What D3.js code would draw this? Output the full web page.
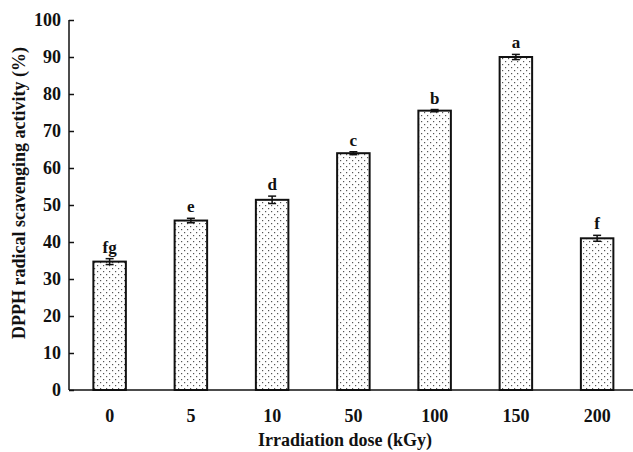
<!DOCTYPE html>
<html><head><meta charset="utf-8">
<script src="https://cdn.jsdelivr.net/npm/d3@7"></script>
<style>body{margin:0;background:#fff}svg{display:block}</style>
</head><body>
<script>
const categories = ["0","5","10","50","100","150","200"];
const values = [34.7, 45.8, 51.4, 64.0, 75.5, 90.0, 41.0];
const errors = [0.8, 0.6, 1.0, 0.4, 0.3, 0.7, 0.8];
const letters = ["fg","e","d","c","b","a","f"];
const yTicks = [0,10,20,30,40,50,60,70,80,90,100];

(function(){
const W = 633, H = 452;
const svg = d3.select("body").append("svg").attr("width", W).attr("height", H);
const mLeft = 69, mTop = 20, mBottom = 390;
const x = d3.scaleBand().domain(categories).range([mLeft, mLeft + 7*81.25]).paddingInner(0.6).paddingOuter(0.3);
const y = d3.scaleLinear().domain([0,100]).range([mBottom, mTop]);

const defs = svg.append("defs");
const pat = defs.append("pattern").attr("id","dots").attr("patternUnits","userSpaceOnUse")
  .attr("width",6).attr("height",6);
pat.append("rect").attr("width",6).attr("height",6).attr("fill","#fff");
pat.append("rect").attr("x",1).attr("y",1).attr("width",1.2).attr("height",1.2).attr("fill","#555");
pat.append("rect").attr("x",4).attr("y",4).attr("width",1.2).attr("height",1.2).attr("fill","#555");

const font = "'Liberation Serif','Times New Roman',serif";

svg.selectAll("rect.bar").data(values).join("rect").attr("class","bar")
  .attr("x",(d,i)=>x(categories[i])).attr("width",x.bandwidth())
  .attr("y",d=>y(d)).attr("height",d=>mBottom-y(d))
  .attr("fill","url(#dots)").attr("stroke","#111").attr("stroke-width",2);

const eb = svg.append("g").attr("stroke","#111").attr("stroke-width",1.5);
values.forEach((v,i)=>{
  const cx = x(categories[i]) + x.bandwidth()/2;
  eb.append("line").attr("x1",cx).attr("x2",cx).attr("y1",y(v+errors[i])).attr("y2",y(v-errors[i]));
  eb.append("line").attr("x1",cx-4).attr("x2",cx+4).attr("y1",y(v+errors[i])).attr("y2",y(v+errors[i]));
  eb.append("line").attr("x1",cx-4).attr("x2",cx+4).attr("y1",y(v-errors[i])).attr("y2",y(v-errors[i]));
});

svg.selectAll("text.lbl").data(values).join("text").attr("class","lbl")
  .attr("x",(d,i)=>x(categories[i]) + x.bandwidth()/2)
  .attr("y",(d,i)=>y(d+errors[i]) - 6)
  .attr("text-anchor","middle").attr("font-family",font).attr("font-weight","bold")
  .attr("font-size",17).attr("fill","#111").text((d,i)=>letters[i]);

const yAxis = d3.axisLeft(y).tickValues(yTicks).tickSize(-5).tickPadding(8);
const gy = svg.append("g").attr("transform",`translate(${mLeft},0)`).call(yAxis);
gy.select(".domain").attr("stroke","#111").attr("stroke-width",1.5).attr("d",`M0,${mTop}V${mBottom}`);
gy.selectAll(".tick line").attr("stroke","#111").attr("stroke-width",1.5);
gy.selectAll(".tick text").attr("font-family",font).attr("font-weight","bold").attr("font-size",18).attr("fill","#111");

const gx = svg.append("g").attr("transform",`translate(0,${mBottom})`)
  .call(d3.axisBottom(x).tickSize(0).tickPadding(19));
gx.select(".domain").attr("d",`M${mLeft},0H${W}`).attr("stroke","#111").attr("stroke-width",1.5);
gx.selectAll(".tick text").attr("font-family",font).attr("font-weight","bold").attr("font-size",18).attr("fill","#111");

svg.append("text").attr("x",345).attr("y",446).attr("text-anchor","middle")
  .attr("font-family",font).attr("font-weight","bold").attr("font-size",18).attr("fill","#111")
  .text("Irradiation dose (kGy)");
svg.append("text").attr("transform","translate(25,193) rotate(-90)").attr("text-anchor","middle")
  .attr("font-family",font).attr("font-weight","bold").attr("font-size",18).attr("fill","#111")
  .text("DPPH radical scavenging activity (%)");
})();
</script>
</body></html>
